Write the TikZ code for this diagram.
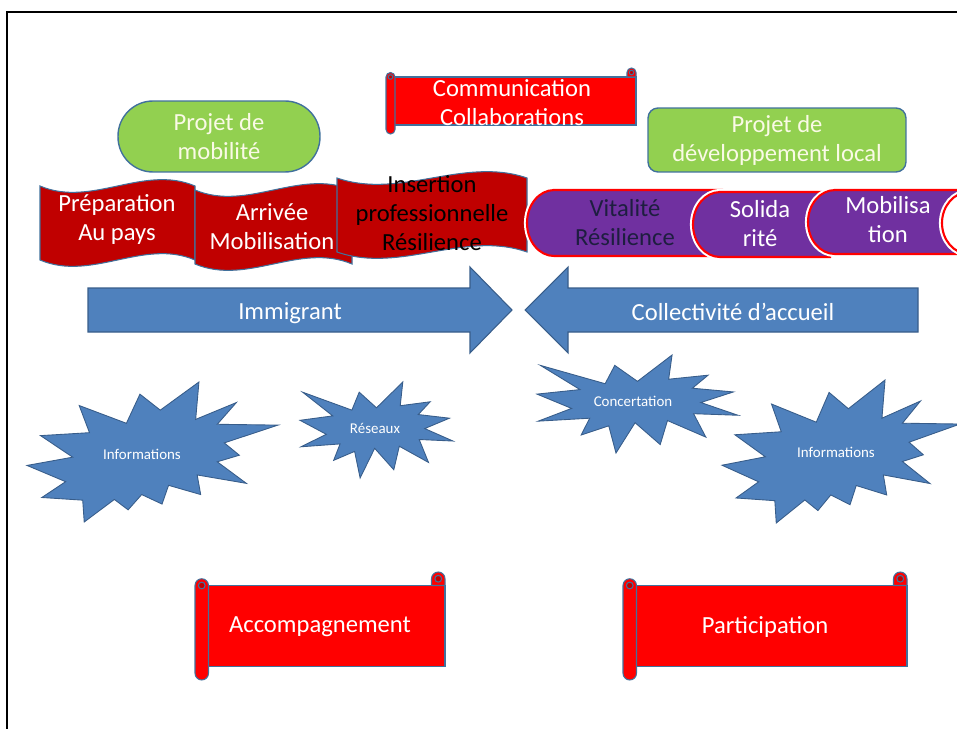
\documentclass[tikz,border=0pt]{standalone}
\usepackage{fontspec}
\setmainfont{Carlito}

\definecolor{boxline}{HTML}{41719C}
\definecolor{greenbox}{HTML}{92D050}
\definecolor{greentext}{HTML}{FAFAE6}
\definecolor{scrollred}{HTML}{FF0000}
\definecolor{curlred}{HTML}{C00000}
\definecolor{bannerred}{HTML}{C00000}
\definecolor{pillpurple}{HTML}{7030A0}
\definecolor{pilltext}{HTML}{1E1E40}
\definecolor{arrowblue}{HTML}{4F81BD}
\definecolor{arrowline}{HTML}{385D8A}

\tikzset{
  label14/.style={font=\fontsize{14}{16.5}\selectfont, align=center, inner sep=0pt},
  projbox/.style={draw=boxline, fill=greenbox, line width=0.8pt, label14, text=greentext},
  paper/.style={draw=boxline, fill=scrollred, line width=0.6pt},
  banner/.style={draw=boxline, fill=bannerred, line width=0.6pt},
  pill/.style={draw=red, line width=1.2pt, preaction={draw=white, line width=3.5pt}},
  bigarrow/.style={draw=arrowline, fill=arrowblue, line width=0.6pt},
  burst/.style={draw=arrowline, fill=arrowblue, line width=0.5pt},
  bursttext/.style={font=\fontsize{8.5}{10}\selectfont, text=white, inner sep=0pt}
}

% left, bottom, right, top, curl
\newcommand{\paperscroll}[5]{%
  \filldraw[paper] ({#1+#5/2},{#4-#5}) -- (#3,{#4-#5}) -- (#3,{#2+#5}) -- ({#1+#5/2},{#2+#5}) -- cycle;
  \filldraw[paper] ({#3-#5},{#4-#5}) -- ({#3-#5},{#4-#5/2}) arc[start angle=180, end angle=0, radius={#5*0.01cm}] -- (#3,{#4-#5}) -- cycle;
  \filldraw[paper, fill=curlred] ({#3-#5/2},{#4-#5/2}) circle[radius={#5*0.005cm}];
  \filldraw[paper] (#1,{#4-#5}) arc[start angle=180, end angle=0, radius={#5*0.01cm}] -- ({#1+#5},{#2+#5/2}) arc[start angle=0, end angle=-180, radius={#5*0.01cm}] -- cycle;
  \filldraw[paper, fill=curlred] ({#1+#5/2},{#4-#5}) circle[radius={#5*0.005cm}];
}
% left, bottom, right, top, swing
\newcommand{\wavebanner}[5]{%
  \filldraw[banner] (#1,#4) .. controls ({#1+(#3-#1)/3},{#4-#5}) and ({#1+2*(#3-#1)/3},{#4+#5}) .. (#3,#4)
    -- (#3,#2) .. controls ({#1+2*(#3-#1)/3},{#2+#5}) and ({#1+(#3-#1)/3},{#2-#5}) .. (#1,#2) -- cycle;
}
% left, bottom, right, top, fill
\newcommand{\capsule}[5]{%
  \filldraw[pill, fill=#5] ({#1+27},#4) -- (#3,#4) -- (#3,#2) -- ({#1+27},#2)
    arc[start angle=270, end angle=90, x radius=0.54cm, y radius={(#4-#2)*0.01cm}] -- cycle;
}
% left, top, width, height
\newcommand{\explosionone}[4]{%
  \filldraw[burst, shift={(#1,#2)}, xscale=#3, yscale=-#4]
    (0.500,0.269) -- (0.672,0) -- (0.655,0.247) -- (0.851,0.206) -- (0.773,0.339) -- (0.977,0.377)
    -- (0.815,0.485) -- (1.0,0.615) -- (0.779,0.599) -- (0.840,0.838) -- (0.649,0.669) -- (0.613,0.914)
    -- (0.488,0.691) -- (0.393,1.0) -- (0.357,0.723) -- (0.220,0.816) -- (0.262,0.645) -- (0.006,0.675)
    -- (0.172,0.545) -- (0,0.399) -- (0.214,0.353) -- (0.017,0.106) -- (0.339,0.293) -- (0.387,0.106) -- cycle;
}
\newcommand{\explosiontwo}[4]{%
  \filldraw[burst, shift={(#1,#2)}, xscale=#3, yscale=-#4]
    (0.531,0.201) -- (0.685,0) -- (0.672,0.267) -- (0.834,0.147) -- (0.758,0.302) -- (1.0,0.308)
    -- (0.786,0.435) -- (0.846,0.523) -- (0.758,0.570) -- (0.874,0.724) -- (0.678,0.664) -- (0.692,0.804)
    -- (0.564,0.738) -- (0.538,0.872) -- (0.457,0.804) -- (0.403,0.913) -- (0.348,0.839) -- (0.228,1.0)
    -- (0.222,0.844) -- (0.059,0.825) -- (0.154,0.712) -- (0,0.596) -- (0.182,0.537) -- (0.054,0.383)
    -- (0.249,0.362) -- (0.208,0.168) -- (0.396,0.295) -- (0.450,0.087) -- cycle;
}

\begin{document}
\begin{tikzpicture}[x=0.02cm, y=0.02cm]
    \useasboundingbox (0,0) rectangle (957,728);
    \clip (0,0) rectangle (957,728);
    \draw[line width=1.1pt] (7,716) rectangle (990,-20);

    \node[projbox, rounded corners=0.7cm, minimum width=4.04cm, minimum height=1.42cm] (mobility) at (219,591.5) {Projet de\\mobilité};
    \paperscroll{386}{594}{636}{660}{9}
    \node[label14, text=white] (communication) at (512,625.5) {Communication\\Collaborations};
    \node[projbox, rounded corners=0.2cm, minimum width=5.16cm, minimum height=1.28cm] (localdev) at (777,588) {Projet de\\développement local};

    \wavebanner{40}{468}{195}{542}{22}
    \wavebanner{195}{464}{352}{538}{22}
    \wavebanner{337}{476}{527}{550}{22}
    \node[label14, text=white] (preparation) at (117,508.5) {Préparation\\Au pays};
    \node[label14, text=white] (arrivee) at (272,501.5) {Arrivée\\Mobilisation};
    \node[label14, text=black] (insertion) at (432,514.5) {Insertion\\professionnelle\\Résilience};

    \capsule{527}{472}{722}{538}{pillpurple}
    \capsule{693}{471}{830}{536}{pillpurple}
    \capsule{808}{474}{990}{538}{pillpurple}
    \capsule{942}{474}{1000}{536}{white}
    \node[label14, text=pilltext] (vitalite) at (625,505.5) {Vitalité\\Résilience};
    \node[label14, text=white] (solidarite) at (760,504) {Solida\\rité};
    \node[label14, text=white] (mobilisation) at (888,508) {Mobilisa\\tion};

    \filldraw[bigarrow] (88,440) -- (470,440) -- (470,461) -- (512,418) -- (470,375) -- (470,396) -- (88,396) -- cycle;
    \filldraw[bigarrow] (525,418) -- (568,461) -- (568,440) -- (918,440) -- (918,396) -- (568,396) -- (568,375) -- cycle;
    \node[label14, text=white] (immigrant) at (290,415) {Immigrant};
    \node[label14, text=white] (accueil) at (733,416) {Collectivité d’accueil};

    \explosiontwo{27}{346}{251}{140}
    \explosionone{300}{346}{153}{96}
    \explosionone{537}{373}{201}{98}
    \explosiontwo{722}{348}{238}{143}
    \node[bursttext] (infoleft) at (142,274) {Informations};
    \node[bursttext] (reseaux) at (375,300) {Réseaux};
    \node[bursttext] (concertation) at (633,327) {Concertation};
    \node[bursttext] (inforight) at (836,276) {Informations};

    \paperscroll{195}{48}{445}{156}{13.5}
    \node[label14, text=white] (accompagnement) at (320,101) {Accompagnement};
    \paperscroll{623}{48}{907}{156}{13.5}
    \node[label14, text=white] (participation) at (765,101) {Participation};
\end{tikzpicture}
\end{document}
